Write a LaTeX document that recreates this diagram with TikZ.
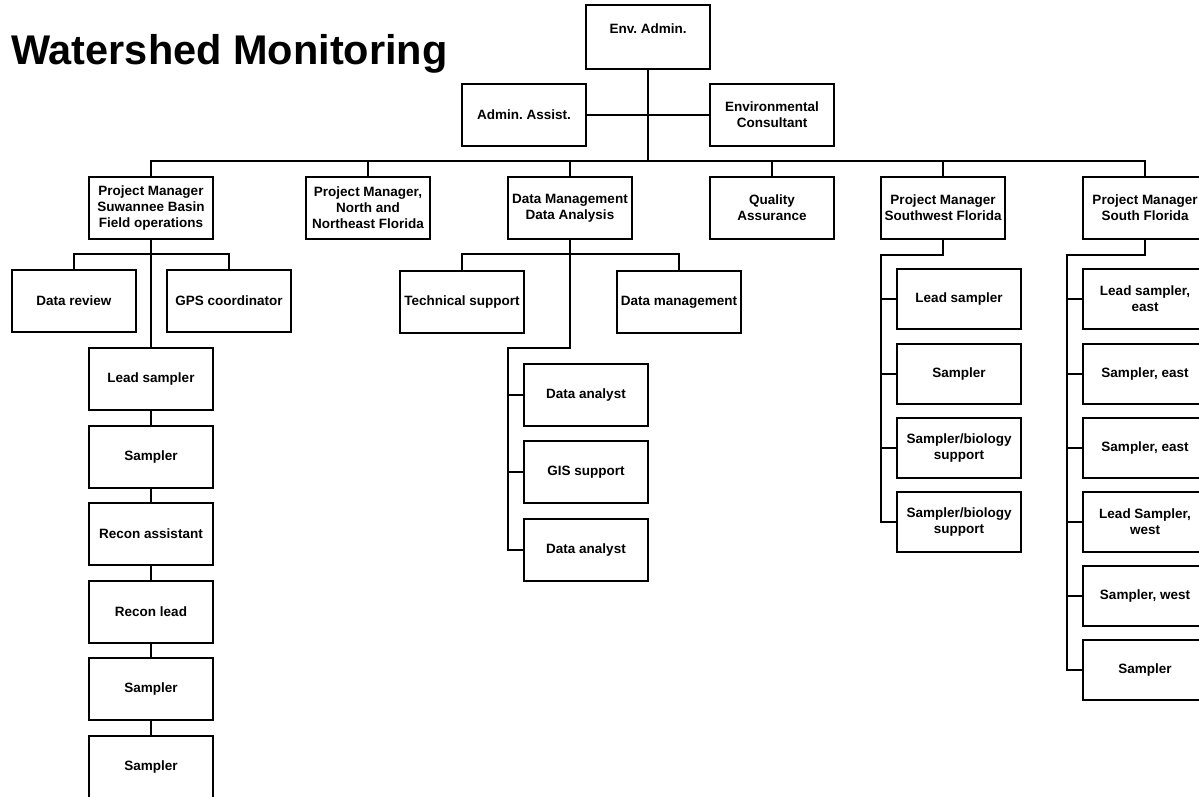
\documentclass[tikz,border=0pt]{standalone}
\usepackage{fontspec}
\setmainfont{Liberation Sans}
\usetikzlibrary{calc}
\frenchspacing
\begin{document}
\begin{tikzpicture}[x=1pt,y=-1pt,
  box/.style={draw, line width=2pt, fill=white, align=center, inner sep=0pt,
    minimum width=124pt, minimum height=62pt,
    font=\fontsize{13.5}{16}\selectfont\bfseries},
  smallbox/.style={box, minimum height=60pt},
  link/.style={line width=2pt},
  lbl/.style={inner sep=0pt, font=\fontsize{13.5}{16}\selectfont\bfseries}]
\useasboundingbox (0,0) rectangle (1199,797);
\clip (0,0) rectangle (1199,797);
\fill[white] (0,0) rectangle (1199,797);

% title
\node[anchor=base west, inner sep=0pt, font=\fontsize{41.5}{48}\selectfont\bfseries]
  (title) at (11,65) {Watershed Monitoring};

% top of the chart
\node[box, minimum height=64pt] (env) at (648,37) {};
\node[lbl] (envlbl) at (648,28.5) {Env. Admin.};
\node[box] (assist)  at (524,115) {Admin. Assist.};
\node[box] (consult) at (772,115) {Environmental\\Consultant};

% second level
\node[box] (suw)   at (151,208)  {Project Manager\\Suwannee Basin\\Field operations};
\node[box] (north) at (368,208)  {Project Manager,\\North and\\Northeast Florida};
\node[box] (dm)    at (570,208)  {Data Management\\Data Analysis};
\node[box] (qa)    at (772,208)  {Quality\\Assurance};
\node[box] (sw)    at (943,208)  {Project Manager\\Southwest Florida};
\node[box] (sf)    at (1145,208) {Project Manager\\South Florida};

\draw[link] (assist.east) -- (consult.west);
\draw[link] (env.south) -- ($(env.south |- suw.north)+(0,-15)$);
\draw[link] (suw.north) -- ++(0,-15) -| (sf.north);
\foreach \n in {north,dm,qa,sw} \draw[link] (\n.north) -- ++(0,-15);

% Suwannee Basin branch
\node[box] (dr)  at (74,301)  {Data review};
\node[box] (gps) at (229,301) {GPS coordinator};
\draw[link] (dr.north) -- ++(0,-15) -| (gps.north);
\node[box] (c1) at (151,379) {Lead sampler};
\node[box] (c2) at (151,457) {Sampler};
\node[box] (c3) at (151,534) {Recon assistant};
\node[box] (c4) at (151,612) {Recon lead};
\node[box] (c5) at (151,689) {Sampler};
\node[box] (c6) at (151,767) {Sampler};
\draw[link] (suw.south) -- (c1.north);
\foreach \a/\b in {c1/c2,c2/c3,c3/c4,c4/c5,c5/c6} \draw[link] (\a.south) -- (\b.north);

% data management branch
\node[box] (tech) at (462,302) {Technical support};
\node[box] (dmg)  at (679,302) {Data management};
\draw[link] (tech.north) -- ++(0,-16) -| (dmg.north);
\node[box] (da1) at (586,395) {Data analyst};
\node[box] (gis) at (586,472) {GIS support};
\node[box] (da2) at (586,550) {Data analyst};
\coordinate (dmspine) at (508,348);
\draw[link] (dm.south) |- (dmspine) -- (dmspine |- da2.west) -- (da2.west);
\foreach \n in {da1,gis} \draw[link] (dmspine |- \n.west) -- (\n.west);

% Southwest Florida branch
\node[smallbox] (sw1) at (959,299) {Lead sampler};
\node[smallbox] (sw2) at (959,374) {Sampler};
\node[smallbox] (sw3) at (959,448) {Sampler/biology\\support};
\node[smallbox] (sw4) at (959,522) {Sampler/biology\\support};
\coordinate (swspine) at (881,255);
\draw[link] (sw.south) |- (swspine) -- (swspine |- sw4.west) -- (sw4.west);
\foreach \n in {sw1,sw2,sw3} \draw[link] (swspine |- \n.west) -- (\n.west);

% South Florida branch
\node[smallbox] (sf1) at (1145,299) {Lead sampler,\\east};
\node[smallbox] (sf2) at (1145,374) {Sampler, east};
\node[smallbox] (sf3) at (1145,448) {Sampler, east};
\node[smallbox] (sf4) at (1145,522) {Lead Sampler,\\west};
\node[smallbox] (sf5) at (1145,596) {Sampler, west};
\node[smallbox] (sf6) at (1145,670) {Sampler};
\coordinate (sfspine) at (1067,255);
\draw[link] (sf.south) |- (sfspine) -- (sfspine |- sf6.west) -- (sf6.west);
\foreach \n in {sf1,sf2,sf3,sf4,sf5} \draw[link] (sfspine |- \n.west) -- (\n.west);
\end{tikzpicture}
\end{document}
